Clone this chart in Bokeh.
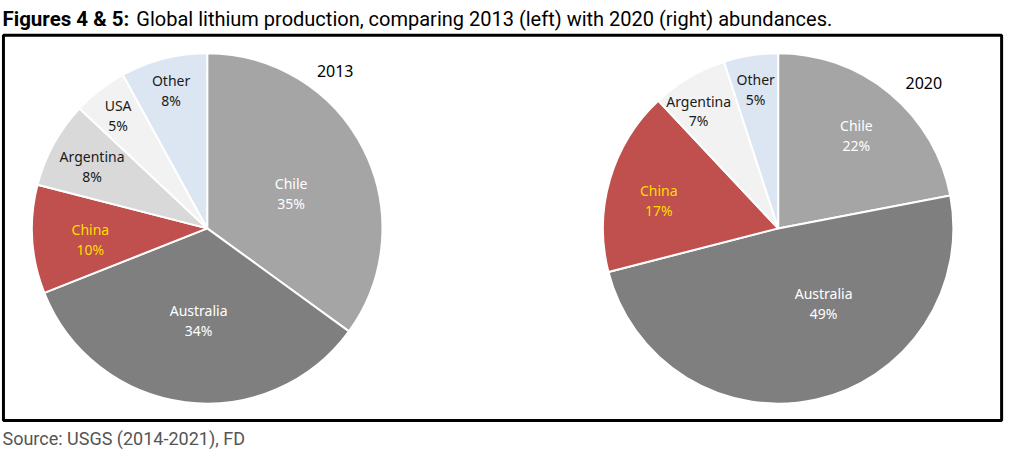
import math
from bokeh.plotting import figure
from bokeh.models import Range1d
from bokeh.core.properties import value
from bokeh.embed import file_html
from bokeh.resources import INLINE

# ---- data ----
categories_2013 = ["Chile", "Australia", "China", "Argentina", "USA", "Other"]
shares_2013 = [35, 34, 10, 8, 5, 8]
categories_2020 = ["Chile", "Australia", "China", "Argentina", "Other"]
shares_2020 = [22, 49, 17, 7, 5]
years = ["2013", "2020"]
title_bold = "Figures 4 & 5:"
title_rest = "Global lithium production, comparing 2013 (left) with 2020 (right) abundances."
source_text = "Source: USGS (2014-2021), FD"

# ---- styles ----
colors = {"Chile": "#a5a5a5", "Australia": "#7f7f7f", "China": "#c0504d",
          "USA": "#f2f2f2", "Other": "#dce6f2"}
arg_color = {"2013": "#d9d9d9", "2020": "#f2f2f2"}
label_color = {"Chile": "white", "Australia": "white", "China": "#ffdd00"}
label_radius_2013 = [0.52, 0.54, 0.67, 0.75, 0.83, 0.83]
label_radius_2020 = [0.70, 0.51, 0.70, 0.82, 0.82]
label_shift_2020 = [0, -18, -3, -3, 0]
label_shift_2013 = [4, -2, -2, 0, 0, 0]

p = figure(width=1008, height=450, output_backend="svg", toolbar_location=None,
           x_range=Range1d(0, 1024), y_range=Range1d(466, 0), min_border=0)
p.axis.visible = False
p.grid.visible = False
p.outline_line_color = None
p.background_fill_color = "white"
p.border_fill_color = "white"

R = 178
FONT = "Noto Sans"

def draw_pie(cx, cy, cats, vals, year, lrad, lshift):
    total = sum(vals)
    cum = 0
    for c, v, lr, ls in zip(cats, vals, lrad, lshift):
        a0 = cum / total
        a1 = (cum + v) / total
        cum += v
        col = arg_color[year] if c == "Argentina" else colors[c]
        p.wedge(x=cx, y=cy, radius=R, start_angle=math.pi / 2 - 2 * math.pi * a0,
                end_angle=math.pi / 2 - 2 * math.pi * a1, direction="clock",
                fill_color=col, line_color="white", line_width=2)
        mid = math.radians(360 * (a0 + a1) / 2 + ls)
        d = lr * R
        p.text(x=cx + d * math.sin(mid), y=cy - d * math.cos(mid),
               text=[f"{c}\n{v}%"], text_align="center", text_baseline="middle",
               text_font=value(FONT), text_font_size="14px", text_line_height=1.05,
               text_color=label_color.get(c, "#1a1a1a"))

# frame box
p.quad(left=3, right=1017, top=36, bottom=435, fill_color=None, line_color="black", line_width=3)

draw_pie(210, 236, categories_2013, shares_2013, "2013", label_radius_2013, label_shift_2013)
draw_pie(790, 236, categories_2020, shares_2020, "2020", label_radius_2020, label_shift_2020)

p.text(x=[340, 938], y=[73, 85], text=years, text_align="center", text_baseline="middle",
       text_font=value(FONT), text_font_size="16px", text_color="black")

p.text(x=[2], y=[19], text=[title_bold], text_align="left", text_baseline="alphabetic",
       text_font=value("Roboto"), text_font_size="20.5px", text_font_style="bold", text_color="black")
p.text(x=[138], y=[19], text=[title_rest], text_align="left", text_baseline="alphabetic",
       text_font=value("Roboto"), text_font_size="20px", text_color="black")
p.text(x=[2], y=[454], text=[source_text], text_align="left", text_baseline="alphabetic",
       text_font=value("Roboto"), text_font_size="18px", text_color="#555555")

open("out.html", "w").write(file_html(p, INLINE))
